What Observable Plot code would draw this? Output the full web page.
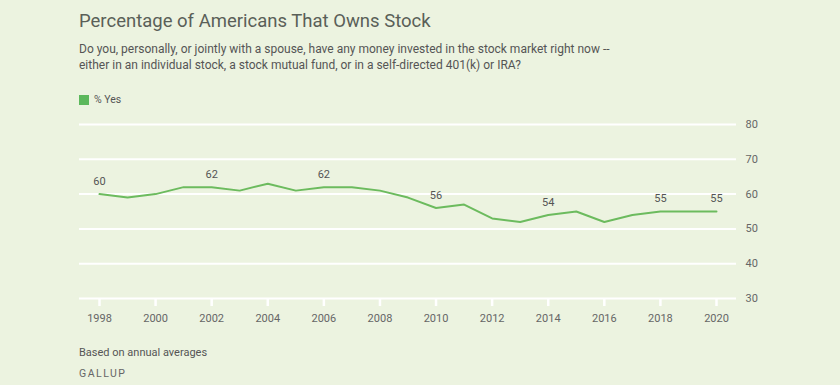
<!DOCTYPE html>
<html>
<head>
<meta charset="utf-8">
<script src="https://cdn.jsdelivr.net/npm/d3@7"></script>
<script src="https://cdn.jsdelivr.net/npm/@observablehq/plot@0.6"></script>
<style>
  html, body { margin: 0; padding: 0; }
  body { width: 840px; height: 385px; background: #ecf3e0; font-family: Roboto, "Open Sans", sans-serif; position: relative; overflow: hidden; }
  .title { position: absolute; left: 79px; top: 10px; font-size: 18.5px; color: #5a5f58; font-weight: 400; }
  .sub { position: absolute; left: 79px; top: 42px; font-size: 12px; line-height: 15.5px; color: #555; }
  .legend { position: absolute; left: 79px; top: 93px; font-size: 10.5px; color: #555; display: flex; align-items: center; }
  .legend .sw { width: 10px; height: 10px; background: #5cb85c; margin-right: 5px; }
  #chart { position: absolute; left: 0; top: 110px; }
  .cap { position: absolute; left: 79px; top: 346px; font-size: 11px; color: #555; }
  .src { position: absolute; left: 79px; top: 367px; font-size: 10.5px; color: #666; letter-spacing: 1.5px; }
</style>
</head>
<body>
<div class="title">Percentage of Americans That Owns Stock</div>
<div class="sub">Do you, personally, or jointly with a spouse, have any money invested in the stock market right now --<br>either in an individual stock, a stock mutual fund, or in a self-directed 401(k) or IRA?</div>
<div class="legend"><div class="sw"></div>% Yes</div>
<div id="chart"></div>
<div class="cap">Based on annual averages</div>
<div class="src">GALLUP</div>
<script>
const years = [1998,1999,2000,2001,2002,2003,2004,2005,2006,2007,2008,2009,2010,2011,2012,2013,2014,2015,2016,2017,2018,2019,2020];
const yes   = [60,59,60,62,62,61,63,61,62,62,61,59,56,57,53,52,54,55,52,54,55,55,55];
const labeledYears = [1998,2002,2006,2010,2014,2018,2020];
const yTicks = [30,40,50,60,70,80];
const xTicks = [1998,2000,2002,2004,2006,2008,2010,2012,2014,2016,2018,2020];

const data = years.map((y, i) => ({year: y, value: yes[i]}));
const labeled = data.filter(d => labeledYears.includes(d.year));

const chart = Plot.plot({
  width: 840,
  height: 225,
  marginLeft: 79,
  marginRight: 104,
  marginTop: 14,
  marginBottom: 37,
  style: {background: "transparent", fontFamily: "Roboto, 'Open Sans', sans-serif", fontSize: "11px", color: "#666"},
  x: {domain: [1998, 2020], insetLeft: 20, insetRight: 20, label: null},
  y: {domain: [30, 80], label: null},
  marks: [
    Plot.ruleY(yTicks, {stroke: "#ffffff", strokeWidth: 2}),
    Plot.axisX({ticks: xTicks, tickFormat: d => String(d), tickSize: 8, tickPadding: 8, stroke: "#ffffff", strokeWidth: 2.5, fill: "#666", fontSize: 11}),
    Plot.axisY({anchor: "right", ticks: yTicks, tickSize: 0, tickPadding: 9, fill: "#666", fontSize: 11, textAnchor: "start"}),
    Plot.line(data, {x: "year", y: "value", stroke: "#6cbb5e", strokeWidth: 2}),
    Plot.text(labeled, {x: "year", y: "value", text: d => String(d.value), dy: -13, fill: "#555", fontSize: 11})
  ]
});
document.getElementById("chart").appendChild(chart);
</script>
</body>
</html>
